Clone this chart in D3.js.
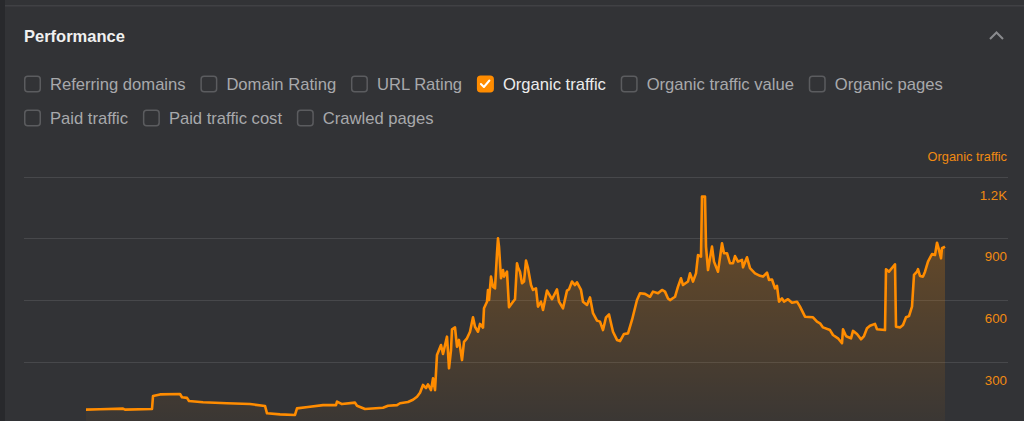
<!DOCTYPE html>
<html>
<head>
<meta charset="utf-8">
<script src="https://cdn.jsdelivr.net/npm/d3@7"></script>
<style>
  html, body { margin: 0; padding: 0; background: #323336; }
  svg { display: block; }
</style>
</head>
<body>
<svg id="chart" width="1024" height="421"></svg>
<script>
// ---------- data ----------
const title = "Performance";
const seriesName = "Organic traffic";
const checkboxRow1 = ["Referring domains", "Domain Rating", "URL Rating", "Organic traffic", "Organic traffic value", "Organic pages"];
const checkboxRow2 = ["Paid traffic", "Paid traffic cost", "Crawled pages"];
const checkedItems = ["Organic traffic"];
const tickValues = [300, 600, 900, 1200];
const tickLabels = ["300", "600", "900", "1.2K"];
// days since start of the period
const days = [0,28,74,78,132,134,148,188,192,202,206,234,282,328,358,362,388,418,422,444,474,500,502,512,538,542,558,594,604,622,628,644,654,662,668,674,680,684,690,694,698,702,710,714,722,726,730,732,738,742,746,752,756,762,768,774,778,784,788,794,796,802,804,806,810,814,818,822,824,826,830,834,836,842,846,854,858,862,864,868,872,876,880,884,890,894,900,904,910,914,922,932,942,946,954,962,966,972,978,982,990,994,1002,1008,1014,1022,1028,1034,1040,1046,1050,1054,1062,1068,1076,1084,1092,1102,1108,1118,1128,1134,1144,1152,1158,1164,1168,1178,1184,1190,1194,1204,1208,1214,1220,1224,1230,1232,1238,1240,1244,1252,1256,1264,1272,1276,1282,1288,1294,1298,1304,1312,1314,1322,1328,1338,1348,1354,1362,1366,1372,1378,1382,1386,1392,1396,1404,1412,1422,1428,1438,1454,1462,1468,1474,1488,1494,1504,1512,1514,1520,1524,1530,1534,1542,1550,1556,1562,1568,1578,1582,1598,1600,1606,1614,1618,1620,1628,1634,1640,1646,1652,1656,1662,1664,1668,1674,1678,1684,1692,1698,1702,1706,1710,1712,1718];
const traffic = [67,69,72,67,70,133,141,143,127,124,109,103,98,94,85,49,44,41,73,80,89,89,106,94,101,86,70,76,86,89,98,104,115,130,149,187,172,190,162,219,162,333,381,338,422,268,357,458,467,373,406,308,397,414,446,516,470,446,484,466,560,592,649,600,714,665,657,828,900,860,706,746,714,738,565,592,604,779,760,738,682,690,792,755,673,649,657,568,592,552,646,604,652,592,560,646,652,690,673,686,649,592,576,613,536,500,495,454,516,530,487,446,406,400,435,438,503,600,633,630,616,641,633,649,641,608,600,616,665,706,673,690,730,690,730,819,811,1103,1103,860,746,860,787,738,876,828,828,779,779,814,787,795,759,808,755,730,718,714,733,698,700,657,669,592,608,592,604,587,592,568,519,516,495,487,467,454,430,414,390,458,425,420,414,450,435,409,425,463,475,484,458,454,750,738,762,774,470,467,479,516,522,568,722,738,750,717,714,738,787,824,819,879,844,803,852,860];

const points = days.map((d, i) => ({ day: d, value: traffic[i] }));

// ---------- layout ----------
const W = 1024, H = 421;
const svg = d3.select("#chart");
const ORANGE = "#ff8c00";
const font = "'Liberation Sans', Arial, sans-serif";

// frame
svg.append("rect").attr("x", 0).attr("y", 0).attr("width", W).attr("height", H).attr("fill", "#323336");
svg.append("rect").attr("x", 0).attr("y", 0).attr("width", 5).attr("height", H).attr("fill", "#28292c");
svg.append("rect").attr("x", 5).attr("y", 5).attr("width", W - 5).attr("height", 1.5).attr("fill", "#404144");

// header
svg.append("text").attr("x", 24).attr("y", 42)
  .attr("font-family", font).attr("font-size", 16.5).attr("font-weight", "bold")
  .attr("fill", "#f0f0f0").text(title);
svg.append("path").attr("d", "M990,39 L996.5,32.5 L1003,39")
  .attr("fill", "none").attr("stroke", "#8a8b8e").attr("stroke-width", 2);

// checkboxes
function drawRow(items, y) {
  let x = 24;
  items.forEach(label => {
    const checked = checkedItems.includes(label);
    const g = svg.append("g");
    g.append("rect").attr("x", x + 0.75).attr("y", y + 0.75).attr("width", 15.5).attr("height", 15.5)
      .attr("rx", 3).attr("fill", checked ? ORANGE : "none")
      .attr("stroke", checked ? ORANGE : "#5b5c5f").attr("stroke-width", 1.5);
    if (checked) {
      g.append("path").attr("d", `M${x + 4},${y + 8.5} L${x + 7},${y + 11.5} L${x + 12.5},${y + 5}`)
        .attr("fill", "none").attr("stroke", "#ffffff").attr("stroke-width", 2)
        .attr("stroke-linecap", "round").attr("stroke-linejoin", "round");
    }
    const t = g.append("text").attr("x", x + 26).attr("y", y + 14)
      .attr("font-family", font).attr("font-size", 16.6)
      .attr("fill", checked ? "#ececec" : "#a8a9ac").text(label);
    const tw = t.node().getComputedTextLength();
    x = x + 26 + tw + 14.8;
  });
}
drawRow(checkboxRow1, 75.5);
drawRow(checkboxRow2, 109.5);

// scales
const x = d3.scaleLinear().domain([0, 1718]).range([86, 945]);
const y = d3.scaleLinear().domain([0, 1200]).range([423.4, 176.7]);

// grid
svg.append("g").selectAll("line").data(tickValues).join("line")
  .attr("x1", 24).attr("x2", 1008)
  .attr("y1", d => Math.round(y(d)) + 0.5).attr("y2", d => Math.round(y(d)) + 0.5)
  .attr("stroke", "#47484b").attr("stroke-width", 1);

// axis labels
svg.append("g").selectAll("text").data(tickValues).join("text")
  .attr("x", 1007).attr("y", d => y(d) + 23)
  .attr("text-anchor", "end").attr("font-family", font).attr("font-size", 13.3)
  .attr("fill", "#f08a12").text((d, i) => tickLabels[i]);
svg.append("text").attr("x", 1007).attr("y", 160.5)
  .attr("text-anchor", "end").attr("font-family", font).attr("font-size", 12.8)
  .attr("fill", "#f08a12").text(seriesName);

// gradient
const defs = svg.append("defs");
const grad = defs.append("linearGradient").attr("id", "fillGrad")
  .attr("gradientUnits", "userSpaceOnUse")
  .attr("x1", 0).attr("x2", 0).attr("y1", y(1000)).attr("y2", y(0));
grad.append("stop").attr("offset", 0).attr("stop-color", ORANGE).attr("stop-opacity", 0.27);
grad.append("stop").attr("offset", 1).attr("stop-color", ORANGE).attr("stop-opacity", 0.04);

const area = d3.area().x(d => x(d.day)).y0(y(0)).y1(d => y(d.value));
const line = d3.line().x(d => x(d.day)).y(d => y(d.value));

svg.append("path").datum(points).attr("d", area).attr("fill", "url(#fillGrad)");
svg.append("path").datum(points).attr("d", line)
  .attr("fill", "none").attr("stroke", ORANGE).attr("stroke-width", 2.6)
  .attr("stroke-linejoin", "round");
</script>
</body>
</html>
